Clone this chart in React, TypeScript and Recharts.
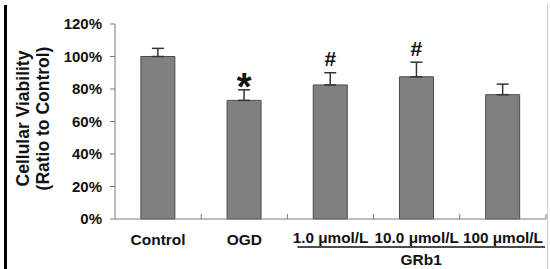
import React from 'react';
import { BarChart, Bar, XAxis, YAxis, ErrorBar, LabelList } from 'recharts';

const categories = ['Control', 'OGD', '1.0 μmol/L', '10.0 μmol/L', '100 μmol/L'];
const means = [100, 73, 82.5, 87.5, 76.5];
const errors = [5, 6.5, 7.5, 9, 6.5];
const markers = ['', '*', '#', '#', ''];
const yTicks = [0, 20, 40, 60, 80, 100, 120];
const groupLabel = 'GRb1';

const data = categories.map((name, i) => ({
  name,
  value: means[i],
  err: [0, errors[i]],
  marker: markers[i],
}));

const FONT = '"Liberation Sans", Arial, Helvetica, sans-serif';
const AXIS = '#7a7a7a';

const XTick = (props: any) => {
  const { x, y, payload, index } = props;
  const off = payload && payload.offset ? payload.offset : 43;
  const isLast = index === categories.length - 1;
  const start = x - 5 * off + 10;
  const end = x + off - 1;
  return (
    <g>
      {index > 0 && (
        <line x1={x - off} y1={y} x2={x - off} y2={y - 5} stroke={AXIS} strokeWidth={1} />
      )}
      {isLast && <line x1={x + off} y1={y} x2={x + off} y2={y - 5} stroke={AXIS} strokeWidth={1} />}
      <text
        x={x}
        y={index >= 2 ? y + 24 : y + 26}
        textAnchor="middle"
        fontFamily={FONT}
        fontWeight="bold"
        fontSize={index >= 2 ? 15.3 : 15.5}
        fill="#111"
      >
        {payload.value}
      </text>
      {isLast && (
        <g>
          <line x1={start} y1={y + 28} x2={end} y2={y + 28} stroke="#111" strokeWidth={1.5} />
          <text
            x={(start + end) / 2}
            y={y + 46}
            textAnchor="middle"
            fontFamily={FONT}
            fontWeight="bold"
            fontSize={15.5}
            fill="#111"
          >
            {groupLabel}
          </text>
        </g>
      )}
    </g>
  );
};

const MarkerLabel = (props: any) => {
  const { x, y, width, height, index, value } = props;
  if (!value) return null;
  const errPx = (errors[index] * height) / means[index];
  const isStar = value === '*';
  return (
    <text
      x={x + width / 2}
      y={y - errPx - (isStar ? -10 : 6.5)}
      textAnchor="middle"
      fontFamily={FONT}
      fontWeight="bold"
      fontSize={isStar ? 38 : 21}
      fill="#111"
    >
      {value}
    </text>
  );
};

const YLabel = (props: any) => {
  const vb = props.viewBox || {};
  const cy = vb.y + vb.height / 2 - 3;
  return (
    <g fontFamily={FONT} fontWeight="bold" fontSize={17.5} fill="#111">
      <text x={29} y={cy} transform={`rotate(-90 29 ${cy})`} textAnchor="middle">
        Cellular Viability
      </text>
      <text x={49} y={cy} transform={`rotate(-90 49 ${cy})`} textAnchor="middle">
        (Ratio to Control)
      </text>
    </g>
  );
};

export default function App() {
  return (
    <div style={{ position: 'absolute', left: 0, top: 0, width: 550, height: 269, background: '#fff' }}>
      <div style={{ position: 'absolute', left: 4, top: 5, width: 3, height: 264, background: '#000' }} />
      <div style={{ position: 'absolute', left: 547, top: 3, width: 1, height: 266, background: '#cfcfcf' }} />
      <BarChart
        width={550}
        height={269}
        data={data}
        margin={{ top: 24, right: 4, bottom: 0, left: 0 }}
        barCategoryGap="30%"
      >
        <XAxis
          dataKey="name"
          height={50}
          interval={0}
          tickLine={false}
          tickSize={0}
          tickMargin={0}
          axisLine={{ stroke: AXIS, strokeWidth: 1 }}
          tick={<XTick />}
        />
        <YAxis
          width={115}
          domain={[0, 120]}
          ticks={yTicks}
          interval={0}
          tickFormatter={(v: number) => `${v}%`}
          tickSize={5}
          tickMargin={8}
          axisLine={{ stroke: AXIS, strokeWidth: 1 }}
          tickLine={{ stroke: AXIS, strokeWidth: 1 }}
          tick={{ fontFamily: FONT, fontWeight: 'bold', fontSize: 15, fill: '#111' }}
          label={<YLabel />}
        />
        <Bar dataKey="value" fill="#808080" stroke="#4a4a4a" strokeWidth={1} isAnimationActive={false}>
          <ErrorBar dataKey="err" width={6} stroke="#333" strokeWidth={1.5} direction="y" />
          <LabelList dataKey="marker" content={<MarkerLabel />} />
        </Bar>
      </BarChart>
    </div>
  );
}
